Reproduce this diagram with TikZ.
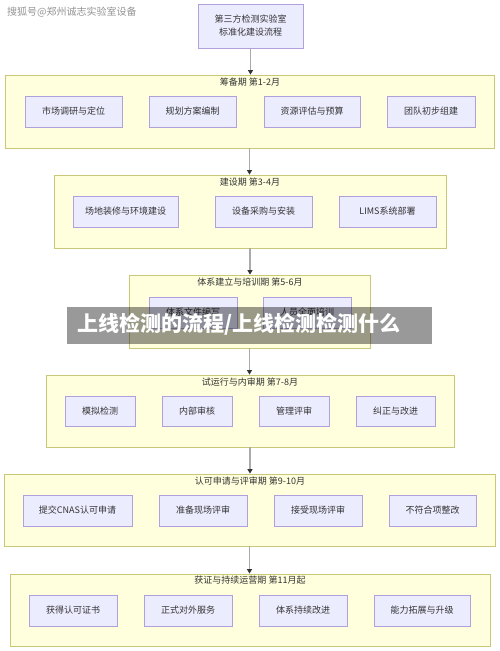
\documentclass[tikz,border=0pt]{standalone}
\usepackage{fontspec}
\setmainfont{Noto Sans CJK SC}
\newfontfamily\cjk{Noto Sans CJK SC}
\usetikzlibrary{arrows.meta}
\definecolor{clfill}{HTML}{FFFFDE}
\definecolor{cldraw}{HTML}{C8C878}
\definecolor{bxfill}{HTML}{ECECFF}
\definecolor{bxdraw}{HTML}{B0A0DC}
\definecolor{txt}{HTML}{333333}
\definecolor{lnk}{HTML}{AAAAAA}
\tikzset{
  cluster/.style={draw=cldraw, fill=clfill, line width=0.8pt, inner sep=0pt},
  stepbox/.style={draw=bxdraw, fill=bxfill, line width=0.8pt, inner sep=0pt, text=txt, font=\cjk\fontsize{9}{11}\selectfont},
  cllabel/.style={text=txt, inner sep=0pt, font=\cjk\fontsize{9}{11}\selectfont},
  flow/.style={draw=lnk, line width=1.6pt, -{Triangle[length=4.5pt,width=5pt,color=txt]}}
}
\begin{document}
\begin{tikzpicture}[x=1pt,y=-1pt]
\useasboundingbox (0,0) rectangle (500,651);
\fill[white] (0,0) rectangle (500,651);

% title
\node[stepbox, minimum width=105pt, minimum height=44pt, align=center] (title) at (250.5,26) {第三方检测实验室\\[2pt]标准化建设流程};

% cluster 1
\node[cluster, minimum width=489pt, minimum height=73pt] (c1) at (249.5,111.5) {};
\node[cllabel] (l1) at (250,82) {筹备期 第1-2月};
\node[stepbox, minimum width=97pt, minimum height=31pt] (b11) at (73.5,111.5) {市场调研与定位};
\node[stepbox, minimum width=87pt, minimum height=31pt] (b12) at (192.5,111.5) {规划方案编制};
\node[stepbox, minimum width=96pt, minimum height=31pt] (b13) at (312,111.5) {资源评估与预算};
\node[stepbox, minimum width=88pt, minimum height=31pt] (b14) at (431,111.5) {团队初步组建};

% cluster 2
\node[cluster, minimum width=392pt, minimum height=73pt] (c2) at (250,211.5) {};
\node[cllabel] (l2) at (250,182) {建设期 第3-4月};
\node[stepbox, minimum width=105pt, minimum height=31pt] (b21) at (125.5,211.5) {场地装修与环境建设};
\node[stepbox, minimum width=97pt, minimum height=31pt] (b22) at (263.5,211.5) {设备采购与安装};
\node[stepbox, minimum width=97pt, minimum height=31pt] (b23) at (387.5,211.5) {LIMS系统部署};

% cluster 3
\node[cluster, minimum width=241pt, minimum height=73pt] (c3) at (249.5,311.5) {};
\node[cllabel] (l3) at (250,282) {体系建立与培训期 第5-6月};
\node[stepbox, minimum width=88pt, minimum height=31pt] (b31) at (193,312.5) {体系文件编写};
\node[stepbox, minimum width=88pt, minimum height=31pt] (b32) at (307,312.5) {人员全面培训};

% cluster 4
\node[cluster, minimum width=408pt, minimum height=72pt] (c4) at (250,411) {};
\node[cllabel] (l4) at (250,382) {试运行与内审期 第7-8月};
\node[stepbox, minimum width=70pt, minimum height=30pt] (b41) at (100,411) {模拟检测};
\node[stepbox, minimum width=70pt, minimum height=30pt] (b42) at (197,411) {内部审核};
\node[stepbox, minimum width=70pt, minimum height=30pt] (b43) at (294,411) {管理评审};
\node[stepbox, minimum width=79pt, minimum height=30pt] (b44) at (395.5,411) {纠正与改进};

% cluster 5
\node[cluster, minimum width=491pt, minimum height=72pt] (c5) at (249.5,510) {};
\node[cllabel] (l5) at (250,481) {认可申请与评审期 第9-10月};
\node[stepbox, minimum width=109pt, minimum height=31pt] (b51) at (77.5,510.5) {提交CNAS认可申请};
\node[stepbox, minimum width=88pt, minimum height=31pt] (b52) at (203,510.5) {准备现场评审};
\node[stepbox, minimum width=88pt, minimum height=31pt] (b53) at (318,510.5) {接受现场评审};
\node[stepbox, minimum width=87pt, minimum height=31pt] (b54) at (432.5,510.5) {不符合项整改};

% cluster 6
\node[cluster, minimum width=480pt, minimum height=72pt] (c6) at (250,610) {};
\node[cllabel] (l6) at (250,580) {获证与持续运营期 第11月起};
\node[stepbox, minimum width=88pt, minimum height=31pt] (b61) at (73,610.5) {获得认可证书};
\node[stepbox, minimum width=88pt, minimum height=31pt] (b62) at (188,610.5) {正式对外服务};
\node[stepbox, minimum width=88pt, minimum height=31pt] (b63) at (303,610.5) {体系持续改进};
\node[stepbox, minimum width=96pt, minimum height=31pt] (b64) at (422,610.5) {能力拓展与升级};

% connectors
\draw[flow] (title.south) -- (title.south |- c1.north);
\draw[flow] (c1.south) -- (c1.south |- c2.north);
\draw[flow] (c2.south) -- (c2.south |- c3.north);
\draw[flow] (c3.south) -- (c3.south |- c4.north);
\draw[flow] (c4.south) -- (c4.south |- c5.north);
\draw[flow] (c5.south) -- (c5.south |- c6.north);

% watermark
\node[anchor=west, inner sep=0pt, text=black!42, font=\cjk\fontsize{10}{12}\selectfont] (wm) at (7,12) {搜狐号@郑州诚志实验室设备};

% banner
\fill[black, opacity=0.4] (67,307) rectangle (432,344);
\node[anchor=west, inner sep=0pt, text=white, font=\cjk\bfseries\fontsize{21}{24}\selectfont] (bn) at (77,324) {上线检测的流程/上线检测检测什么};
\end{tikzpicture}
\end{document}
